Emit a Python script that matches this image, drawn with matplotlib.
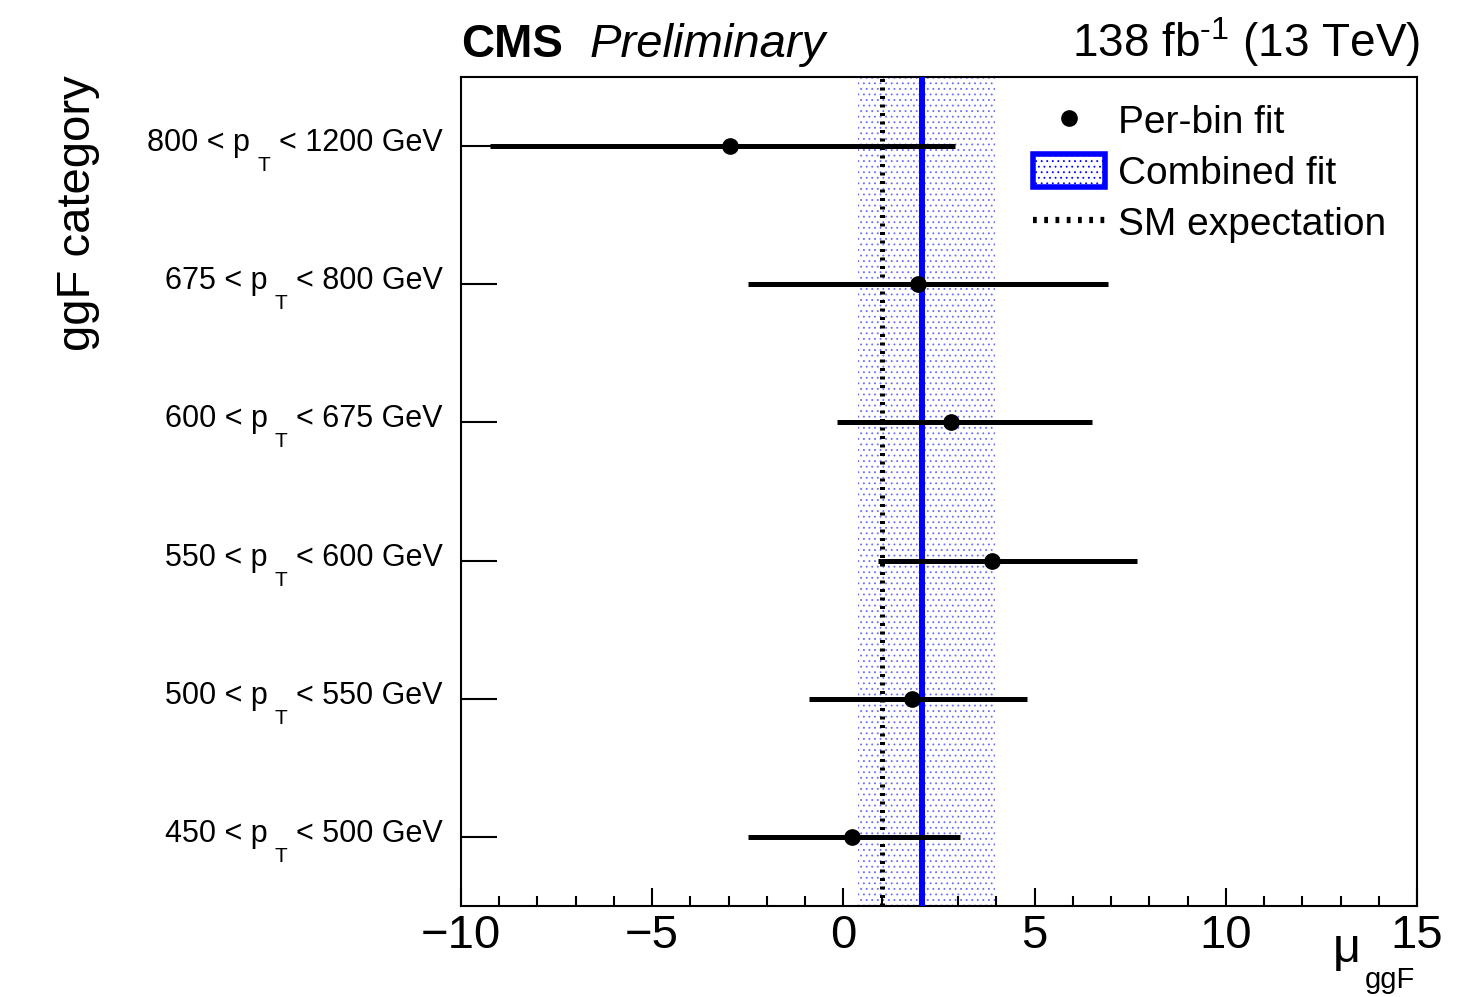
import matplotlib
matplotlib.use('Agg')
import matplotlib.pyplot as plt
from matplotlib.lines import Line2D
from matplotlib.patches import Patch

plt.rcParams['font.family'] = ['Liberation Sans', 'DejaVu Sans']
plt.rcParams['mathtext.fontset'] = 'custom'
plt.rcParams['mathtext.rm'] = 'Liberation Sans'
plt.rcParams['mathtext.it'] = 'Liberation Sans:italic'
plt.rcParams['mathtext.bf'] = 'Liberation Sans:bold'
plt.rcParams['hatch.linewidth'] = 0.6

# per-bin signal strength fits, lowest pT bin first
pt_low = [450, 500, 550, 600, 675, 800]
pt_high = [500, 550, 600, 675, 800, 1200]
mu_fit = [0.22, 1.79, 3.88, 2.81, 1.95, -2.97]
mu_lo = [-2.50, -0.90, 0.90, -0.17, -2.50, -9.23]
mu_hi = [3.05, 4.80, 7.68, 6.50, 6.92, 2.92]

# combined fit and SM
mu_comb = 2.05
mu_comb_lo = 0.38
mu_comb_hi = 3.96
mu_sm = 1.0

rows = list(range(len(pt_low)))
err_lo = [m - l for m, l in zip(mu_fit, mu_lo)]
err_hi = [h - m for m, h in zip(mu_fit, mu_hi)]

fig = plt.figure(figsize=(14.66, 9.97), dpi=100)
ax = fig.add_axes([461/1466, 91/997, 956/1466, 829/997])

ax.axvspan(mu_comb_lo, mu_comb_hi, facecolor='none', edgecolor='#6a6aff',
           hatch='...', linewidth=0, zorder=1)
ax.axvline(mu_sm, color='black', lw=3.6, linestyle=(0, (0.6, 1.1)),
           dash_capstyle='butt', zorder=2)
ax.axvline(mu_comb, color='#0000ff', lw=4.3, zorder=3)
ax.errorbar(mu_fit, rows, xerr=[err_lo, err_hi], fmt='o', color='black',
            ms=11, elinewidth=3.6, capsize=0, zorder=4)

ax.set_xlim(-10, 15)
ax.set_ylim(-0.5, len(pt_low) - 0.5)
ax.set_xticks([-10, -5, 0, 5, 10, 15])
ax.set_xticklabels(['\u221210', '\u22125', '0', '5', '10', '15'])
ax.set_xticks(range(-10, 16), minor=True)
ax.tick_params(axis='x', which='major', direction='in', length=13, width=1.5,
               labelsize=34, pad=6, top=False)
ax.tick_params(axis='x', which='minor', direction='in', length=7, width=1.5,
               top=False)
ax.set_yticks(rows)
ax.set_yticklabels([])
ax.tick_params(axis='y', which='major', direction='in', length=26, width=1.5,
               right=False)
ax.tick_params(axis='y', which='minor', left=False, right=False)
for s in ax.spines.values():
    s.set_linewidth(1.5)

# category labels, with a ROOT-style low pT subscript
for y, lo, hi in zip(rows, pt_low, pt_high):
    t3 = ax.annotate(f'< {hi} GeV', xy=(0, y), xycoords=('axes fraction', 'data'),
                     xytext=(-13, -3.6), textcoords='offset points',
                     ha='right', va='baseline', fontsize=22)
    t2 = ax.annotate('T', xy=(0, y), xycoords=(t3, 'data'),
                     xytext=(-6.5, -18), textcoords='offset points',
                     ha='right', va='baseline', fontsize=15)
    ax.annotate(f'{lo} < p', xy=(0, y), xycoords=(t2, 'data'),
                xytext=(-5.2, -3.6), textcoords='offset points',
                ha='right', va='baseline', fontsize=22)

fig.text(1333/1466, 1 - 962/997, '\u03bc', fontsize=35, ha='left', va='baseline')
fig.text(1415/1466, 1 - 988/997, 'ggF', fontsize=21, ha='right', va='baseline')
fig.text(78/1466, 1 - 75/997, 'ggF category', rotation=90, ha='center',
         va='top', fontsize=34)

fig.text(461/1466, 1 - 57/997, 'CMS', fontsize=33, fontweight='bold',
         ha='left', va='baseline')
fig.text(590/1466, 1 - 57/997, 'Preliminary', fontsize=34, style='italic',
         ha='left', va='baseline')
fig.text(1420/1466, 1 - 57/997, r'138 fb$^{\mathrm{\text{-}1}}$ (13 TeV)',
         fontsize=33, ha='right', va='baseline')

handles = [
    Line2D([], [], marker='o', color='black', linestyle='none', ms=11),
    Patch(facecolor='white', edgecolor='#0000ff', linewidth=4, hatch='...'),
    Line2D([], [], color='black', lw=4.5, linestyle=(0, (0.6, 1.2)),
           dash_capstyle='butt'),
]
fig.legend(handles, ['Per-bin fit', 'Combined fit', 'SM expectation'],
           loc='upper left', bbox_to_anchor=(1033/1466, 1 - 103/997),
           bbox_transform=fig.transFigure, frameon=False, fontsize=28,
           handlelength=1.85, handleheight=0.93, handletextpad=0.33,
           labelspacing=0.34, borderpad=0, borderaxespad=0)

fig.savefig('out.png', dpi=100)
